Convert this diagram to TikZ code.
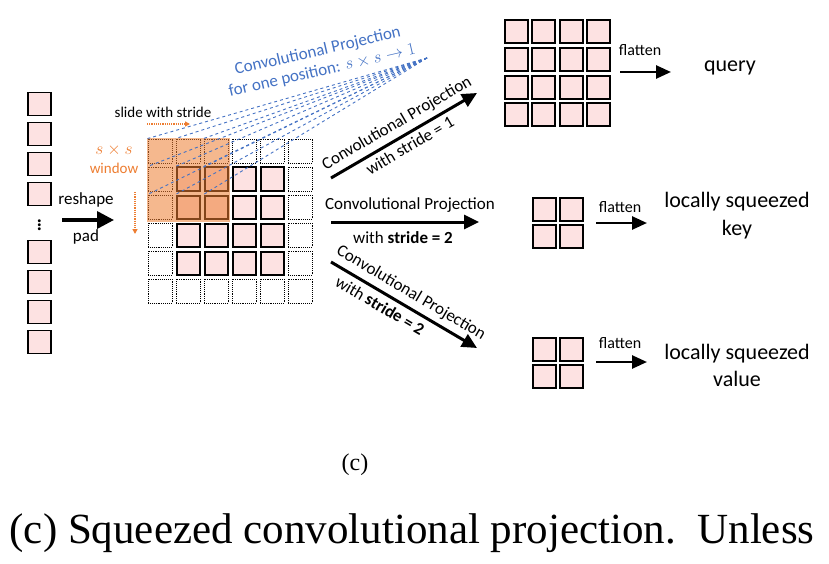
\documentclass[tikz,border=0pt]{standalone}
\usepackage{fontspec}
\setmainfont{Carlito}
\newfontfamily\capfont{Liberation Serif}
\usetikzlibrary{arrows.meta,positioning}

\definecolor{cellpink}{RGB}{253,226,226}
\definecolor{winorange}{RGB}{237,125,49}
\definecolor{projblue}{RGB}{68,114,196}

\tikzset{
  cell/.style={draw=black, line width=2pt, fill=cellpink, minimum size=23pt, inner sep=0pt},
  padcell/.style={draw=black, densely dotted, line width=0.9pt, minimum size=24pt, inner sep=0pt},
  bigarrow/.style={line width=3pt, -{Triangle[length=15pt,width=14pt]}},
  smallarrow/.style={line width=2.6pt, -{Triangle[length=15pt,width=13pt]}},
  orarrow/.style={winorange, densely dotted, line width=1.2pt, -{Triangle[length=5pt,width=5pt]}},
  txt/.style={font=\fontsize{17}{20}\selectfont, inner sep=1pt},
  bigtxt/.style={font=\fontsize{22}{28}\selectfont, inner sep=1pt, align=center},
}

\begin{document}
\begin{tikzpicture}[x=1pt,y=-1pt]
\useasboundingbox (0,0) rectangle (829,564);

% input tokens
\foreach \k/\y in {1/104,2/134,3/164,4/194,5/252,6/282,7/312,8/342}
  \node[cell, line width=1.8pt] (tok\k) at (39.5,\y) {};
\node[font=\fontsize{24}{24}\selectfont, inner sep=0pt] (dots) at (39.5,222) {$\vdots$};

% reshape + pad
\coordinate (ra) at (62,220);
\coordinate (rb) at (114,220);
\draw[line width=3.5pt, -{Triangle[length=17pt,width=17pt]}] (ra) -- (rb);
\node[txt] (reshape) at (86,200) {reshape};
\node[txt] (pad) at (86,237) {pad};

% padded grid
\foreach \i in {0,...,5}
  \foreach \j in {0,...,5}{
    \pgfmathtruncatemacro\inside{(\i>0)&&(\i<5)&&(\j>0)&&(\j<5)}
    \ifnum\inside=1
      \node[cell] (g-\i-\j) at (160+28*\i,151+28*\j) {};
    \else
      \node[padcell] (g-\i-\j) at (160+28*\i,151+28*\j) {};
    \fi
  }

% s x s window
\fill[winorange, fill opacity=0.55] (147,138) rectangle (230,222);
\node[txt, winorange, font=\fontsize{16}{18}\selectfont] (sxs) at (114,150) {$s\times s$};
\node[txt, winorange, font=\fontsize{15}{18}\selectfont] (win) at (114,168) {window};
\node[txt, font=\fontsize{15}{18}\selectfont] (slide) at (163,112) {slide with stride};
\coordinate (sa) at (147,124);
\coordinate (sb) at (190,124);
\draw[orarrow] (sa) -- (sb);
\coordinate (da) at (135,192);
\coordinate (db) at (135,234);
\draw[orarrow] (da) -- (db);

% projection of one position
\coordinate (apex) at (427,58);
\foreach \i in {0,1,2}
  \foreach \j in {0,1,2}
    \draw[projblue, dashed, line width=0.9pt] (apex) -- (g-\i-\j.north west);
\node[txt, projblue, rotate=13, align=center] (onepos) at (320,61)
  {Convolutional Projection\\for one position: $s\times s\to 1$};

% stride 1 -> query
\coordinate (q1a) at (331,178);
\coordinate (q1b) at (477,93);
\draw[bigarrow] (q1a) -- (q1b)
  node[txt, midway, above=4pt, sloped] {Convolutional Projection}
  node[txt, midway, below=3pt, sloped] {with stride = 1};

\foreach \i in {0,...,3}
  \foreach \j in {0,...,3}
    \node[cell] (q-\i-\j) at (516+27.6*\i,32+27.6*\j) {};
\node[txt, font=\fontsize{16}{18}\selectfont] (qflat) at (640,50) {flatten};
\coordinate (qfa) at (620,72);
\coordinate (qfb) at (671,72);
\draw[smallarrow] (qfa) -- (qfb);
\node[bigtxt] (query) at (730,68) {query};

% stride 2 -> key
\coordinate (k2a) at (331,222);
\coordinate (k2b) at (479,222);
\draw[bigarrow] (k2a) -- (k2b);
\node[txt] (kconv) at (410,205) {Convolutional Projection};
\node[txt] (kstr) at (403,238) {with \textbf{stride = 2}};

\foreach \i in {0,1}
  \foreach \j in {0,1}
    \node[cell] (k-\i-\j) at (544+27.5*\i,209+27.5*\j) {};
\node[txt, font=\fontsize{16}{18}\selectfont] (kflat) at (620,207) {flatten};
\coordinate (kfa) at (596,223);
\coordinate (kfb) at (647,223);
\draw[smallarrow] (kfa) -- (kfb);
\node[bigtxt] (key) at (737,216) {locally squeezed\\key};

% stride 2 -> value
\coordinate (v2a) at (331,262);
\coordinate (v2b) at (477,348);
\draw[bigarrow] (v2a) -- (v2b)
  node[txt, pos=0.5, above=4pt, sloped] {Convolutional Projection}
  node[txt, pos=0.38, below=4pt, sloped] {with \textbf{stride = 2}};

\foreach \i in {0,1}
  \foreach \j in {0,1}
    \node[cell] (v-\i-\j) at (544+27.5*\i,349+27.5*\j) {};
\node[txt, font=\fontsize{16}{18}\selectfont] (vflat) at (620,343) {flatten};
\coordinate (vfa) at (596,362);
\coordinate (vfb) at (647,362);
\draw[smallarrow] (vfa) -- (vfb);
\node[bigtxt, font=\fontsize{22}{27}\selectfont] (value) at (737,365) {locally squeezed\\value};

% captions
\node[font=\capfont\fontsize{24}{28}\selectfont] (sub) at (355,465) {(c)};
\node[font=\capfont\fontsize{43}{50}\selectfont] (cap) at (412,533)
  {(c) Squeezed convolutional projection.\ \ Unless};
\end{tikzpicture}
\end{document}
